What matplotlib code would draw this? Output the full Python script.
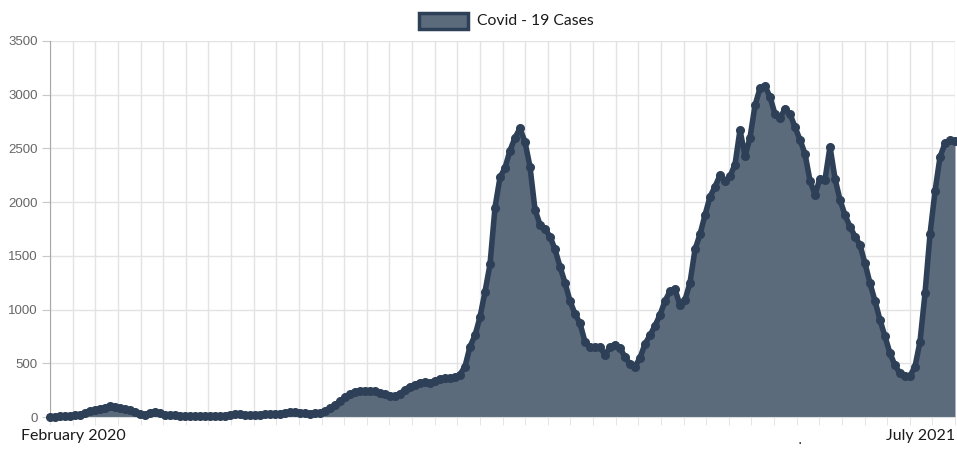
import numpy as np
import matplotlib.pyplot as plt
from matplotlib.patches import Rectangle

# daily-ish case counts, Feb 2020 -> Jul 2021
cases = [0, 3, 5, 8, 12, 18, 22, 35, 55, 65,
         75, 88, 100, 95, 80, 70, 62, 50, 30, 22,
         40, 48, 35, 22, 18, 15, 12, 10, 10, 10,
         8, 8, 8, 5, 5, 5, 20, 28, 25, 18,
         20, 22, 22, 25, 25, 28, 32, 38, 45, 50,
         40, 35, 32, 35, 40, 60, 80, 110, 145, 185,
         214, 232, 240, 245, 245, 240, 225, 210, 200, 195,
         215, 255, 282, 300, 320, 325, 315, 335, 355, 360,
         362, 368, 395, 470, 655, 760, 930, 1166, 1420, 1950,
         2230, 2320, 2480, 2600, 2687, 2560, 2330, 1930, 1790, 1750,
         1680, 1560, 1400, 1250, 1080, 960, 872, 700, 650, 655,
         650, 580, 650, 670, 640, 560, 490, 470, 550, 680,
         760, 850, 950, 1080, 1170, 1190, 1040, 1090, 1250, 1560,
         1700, 1880, 2050, 2144, 2250, 2200, 2240, 2350, 2672, 2430,
         2600, 2900, 3060, 3080, 2980, 2820, 2780, 2870, 2820, 2700,
         2580, 2450, 2200, 2070, 2220, 2210, 2516, 2220, 2020, 1880,
         1771, 1680, 1601, 1430, 1245, 1080, 903, 750, 593, 480,
         407, 380, 380, 470, 700, 1150, 1700, 2100, 2420, 2548,
         2575, 2570]
first_label = "February 2020"
last_label = "July 2021"
series_name = "Covid - 19 Cases"

line_col = "#2e4057"
fill_col = "#5b6b7c"

W, H = 957, 462
fig = plt.figure(figsize=(W / 100, H / 100), dpi=100)
ax = fig.add_axes([50 / W, 45 / H, 905 / W, 376 / H])

x = np.arange(len(cases))
ax.fill_between(x, cases, 0, color=fill_col, zorder=2, linewidth=0)
ax.plot(x, cases, color=line_col, lw=4, marker="o", ms=5.5,
        mec=line_col, mfc=line_col, zorder=3, clip_on=False)

ax.set_xlim(0, len(cases) - 1)
ax.set_ylim(0, 3500)
ax.set_yticks(np.arange(0, 3501, 500))
ax.set_xticks([])
ax.set_xticks(np.linspace(0, len(cases) - 1, 41), minor=True)
ax.grid(True, which="minor", axis="x", color="#e3e3e3", lw=1)
ax.grid(True, which="major", axis="y", color="#e3e3e3", lw=1)
ax.set_axisbelow(True)

for s in ["top", "right"]:
    ax.spines[s].set_visible(False)
ax.spines["left"].set_color("#a8a8a8")
ax.spines["bottom"].set_color("#dddddd")
ax.tick_params(axis="y", length=6, color="#c8c8c8", labelcolor="#666666",
               labelsize=9.5, pad=3)
ax.tick_params(axis="x", which="minor", length=6, color="#e0e0e0",
               labelbottom=False)
for t in ax.get_yticklabels():
    t.set_fontfamily("Liberation Sans")

ax.text(23 / 905, -19 / 376, first_label, transform=ax.transAxes,
        ha="center", va="center", fontsize=11.5, family="Lato", color="#1a1a1a")
ax.text(1.0, -19 / 376, last_label, transform=ax.transAxes,
        ha="right", va="center", fontsize=11.5, family="Lato", color="#1a1a1a")
fig.text(800 / W, 1 - 440 / H, ".", fontsize=10, color="#222222",
         ha="center", va="center")

# legend drawn by hand at the top centre
fig.add_artist(Rectangle((419 / W, 1 - 29 / H), 49 / W, 16 / H,
                         transform=fig.transFigure, facecolor=fill_col,
                         edgecolor=line_col, lw=2.5))
fig.text(477 / W, 1 - 21 / H, series_name, fontsize=11.3, family="Lato",
         color="#1a1a1a", ha="left", va="center")

fig.savefig("out.png", dpi=100)
